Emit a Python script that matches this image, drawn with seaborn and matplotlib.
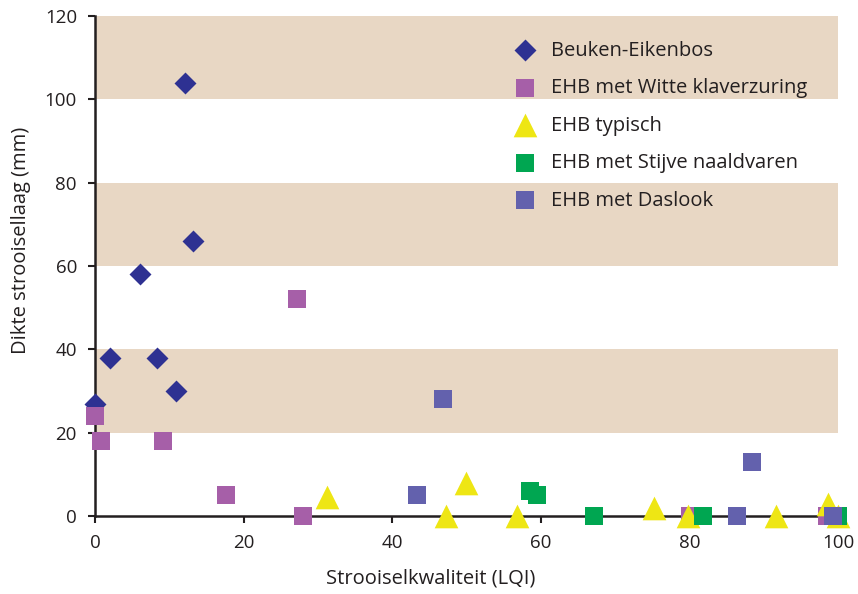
import pandas as pd
import matplotlib.pyplot as plt
import seaborn as sns

# Strooiselkwaliteit (LQI) vs dikte strooisellaag (mm), per vegetatietype
groups = [
    "Beuken-Eikenbos",
    "EHB met Witte klaverzuring",
    "EHB typisch",
    "EHB met Stijve naaldvaren",
    "EHB met Daslook",
]

beuken_x = [0, 2, 6.1, 8.3, 12.1, 13.2, 10.9]
beuken_y = [27, 38, 58, 38, 104, 66, 30]

witte_x = [0, 0.8, 9.2, 17.6, 28, 27.2, 80.1, 98.5]
witte_y = [24, 18, 18, 5, 0, 52, 0, 0]

typisch_x = [31.2, 47.2, 49.9, 56.8, 75.2, 79.8, 91.7, 98.6, 100]
typisch_y = [4.5, 0, 8, 0, 2, 0, 0, 3, 0]

stijve_x = [58.5, 59.5, 67.2, 81.8, 100]
stijve_y = [6, 5, 0, 0, 0]

daslook_x = [46.8, 43.3, 86.4, 88.4, 99.3]
daslook_y = [28, 5, 0, 13, 0]

bands = [(20, 40), (60, 80), (100, 120)]

colors = ["#2E3192", "#A65FA8", "#EEE614", "#00A651", "#6361AD"]
markers = ["D", "s", "^", "s", "s"]
sizes = [125, 150, 290, 150, 150]

frames = []
for name, xs, ys in zip(groups,
                        [beuken_x, witte_x, typisch_x, stijve_x, daslook_x],
                        [beuken_y, witte_y, typisch_y, stijve_y, daslook_y]):
    frames.append(pd.DataFrame({"lqi": xs, "dikte": ys, "type": name}))
df = pd.concat(frames, ignore_index=True)

sns.set_style("ticks")
plt.rcParams["font.family"] = ["Open Sans", "DejaVu Sans"]

fig = plt.figure(figsize=(8.58, 5.94), dpi=100)
ax = fig.add_axes([0.1107, 0.1313, 0.866, 0.8417])

for lo, hi in bands:
    ax.axhspan(lo, hi, color="#E8D7C4", lw=0, zorder=0)

for name, c, m, s in zip(groups, colors, markers, sizes):
    sub = df[df["type"] == name]
    sns.scatterplot(data=sub, x="lqi", y="dikte", ax=ax, color=c, marker=m,
                    s=s, linewidth=0, label=name, clip_on=False, zorder=3)

ax.set_xlim(0, 100)
ax.set_ylim(0, 120)
ax.set_xticks(range(0, 101, 20))
ax.set_yticks(range(0, 121, 20))
ax.set_xlabel("Strooiselkwaliteit (LQI)", fontsize=14.5, color="#231F20")
ax.set_ylabel("Dikte strooisellaag (mm)", fontsize=14.5, color="#231F20")
ax.xaxis.set_label_coords(0.452, -0.104)
ax.yaxis.set_label_coords(-0.086, 0.552)
ax.tick_params(labelsize=13.5, colors="#231F20", length=5, width=1.5, pad=8)
for side in ["left", "bottom"]:
    ax.spines[side].set_color("#231F20")
    ax.spines[side].set_linewidth(1.8)
sns.despine(ax=ax)

leg = ax.legend(loc="upper left", bbox_to_anchor=(0.541, 0.967), frameon=False,
                fontsize=14.5, handletextpad=0.3, labelspacing=0.87, borderaxespad=0)
for t in leg.get_texts():
    t.set_color("#231F20")

fig.savefig("out.png", dpi=100)
